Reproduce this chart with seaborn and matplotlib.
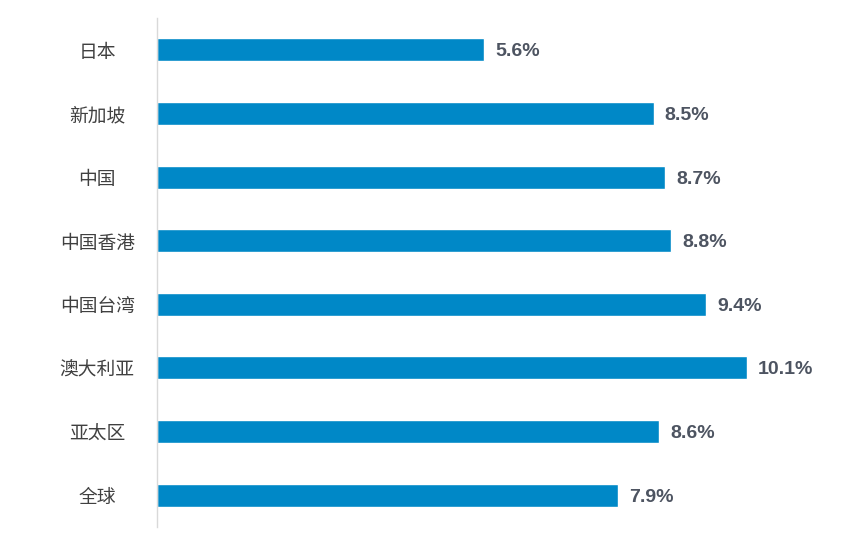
import pandas as pd
import seaborn as sns
import matplotlib.pyplot as plt

regions = ['日本', '新加坡', '中国', '中国香港', '中国台湾', '澳大利亚', '亚太区', '全球']
rates = [5.6, 8.5, 8.7, 8.8, 9.4, 10.1, 8.6, 7.9]

df = pd.DataFrame({'region': regions, 'rate': rates})

sns.set_style('white')
plt.rcParams['font.family'] = ['Noto Sans CJK SC', 'DejaVu Sans']

fig = plt.figure(figsize=(8.62, 5.4), dpi=100)
ax = fig.add_axes([157 / 862, 13 / 540, 701 / 862, 509 / 540])

sns.barplot(data=df, y='region', x='rate', orient='h', color='#0088C7',
            width=0.36, saturation=1, ax=ax)

ax.set_xlim(0, 12)
ax.set_ylim(7.5, -0.5)
ax.set_xlabel('')
ax.set_ylabel('')
ax.set_xticks([])

for s in ['top', 'right', 'bottom']:
    ax.spines[s].set_visible(False)
ax.spines['left'].set_color('#d9d9d9')
ax.spines['left'].set_linewidth(1)

ax.tick_params(axis='y', length=0, pad=43, labelsize=13.5, labelcolor='#404040')
for lab in ax.get_yticklabels():
    lab.set_ha('center')

for c in ax.containers:
    labels = ax.bar_label(c, fmt='%.1f%%', padding=8, fontsize=14, fontweight='bold',
                          color='#4d5461', family='Liberation Sans')
    for t in labels:
        t.set_va('center_baseline')

fig.savefig('out.png', dpi=100)
